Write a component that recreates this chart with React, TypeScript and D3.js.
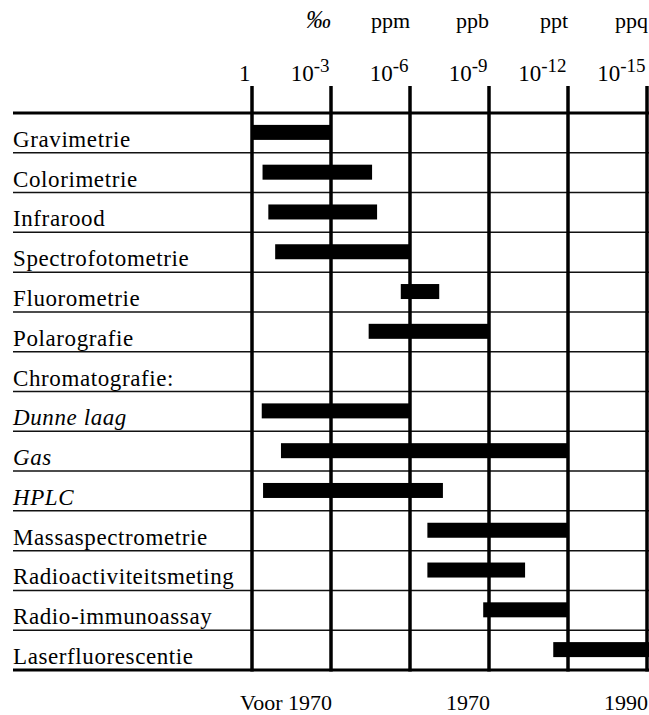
import React from "react";
import * as d3 from "d3";

const categories = [
  "Gravimetrie",
  "Colorimetrie",
  "Infrarood",
  "Spectrofotometrie",
  "Fluorometrie",
  "Polarografie",
  "Chromatografie:",
  "Dunne laag",
  "Gas",
  "HPLC",
  "Massaspectrometrie",
  "Radioactiviteitsmeting",
  "Radio-immunoassay",
  "Laserfluorescentie",
];
const italicRows = ["Dunne laag", "Gas", "HPLC"];
// detection range in negative decimal exponents (0 = 1, 15 = 10^-15)
const rangeStart: (number | null)[] = [0, 0.4, 0.62, 0.88, 5.65, 4.43, null, 0.37, 1.1, 0.42, 6.66, 6.66, 8.78, 11.44];
const rangeEnd: (number | null)[] = [3, 4.56, 4.75, 6.0, 7.11, 9.0, null, 6.0, 12, 7.25, 12, 10.37, 12, 15.1];

const tickExponents = [0, 3, 6, 9, 12, 15];
const unitLabels = ["", "‰", "ppm", "ppb", "ppt", "ppq"];
const periodLabels = ["Voor 1970", "1970", "1990"];
const periodPositions = [3, 9, 15];

const W = 649;
const H = 715;
const FONT = "'Liberation Serif', 'Times New Roman', serif";

export default function App() {
  const x = d3.scaleLinear().domain([0, 15]).range([252, 647]);
  const y = d3.scaleBand<string>().domain(categories).range([113, 670]).padding(0);
  const bw = y.bandwidth();
  const barH = 15;
  const leftX = 13;

  return (
    <svg
      width={W}
      height={H}
      style={{ position: "absolute", left: 0, top: 0, background: "#fff" }}
      fontFamily={FONT}
    >
      {/* row separators */}
      {categories.slice(1).map((c) => (
        <line key={"sep" + c} x1={leftX} x2={W} y1={y(c)!} y2={y(c)!} stroke="#111" strokeWidth={1.5} />
      ))}
      {/* bars */}
      {categories.map((c, i) =>
        rangeStart[i] === null ? null : (
          <rect
            key={"bar" + c}
            x={x(rangeStart[i] as number)}
            y={y(c)! + bw / 2 - barH / 2 - 0.5}
            width={x(rangeEnd[i] as number) - x(rangeStart[i] as number)}
            height={barH}
            fill="#000"
          />
        )
      )}
      {/* vertical lines */}
      {tickExponents.map((t) => (
        <line key={"v" + t} x1={x(t)} x2={x(t)} y1={86} y2={671.5} stroke="#000" strokeWidth={3.5} />
      ))}
      {/* top and bottom thick lines */}
      <line x1={leftX} x2={W} y1={113} y2={113} stroke="#000" strokeWidth={3} />
      <line x1={leftX} x2={W} y1={670} y2={670} stroke="#000" strokeWidth={3} />
      {/* category labels */}
      {categories.map((c) => (
        <text
          key={"lab" + c}
          x={leftX}
          y={y(c)! + bw - 6}
          fontSize={23}
          letterSpacing={0.6}
          fontStyle={italicRows.includes(c) ? "italic" : "normal"}
          fill="#000"
        >
          {c}
        </text>
      ))}
      {/* exponent tick labels */}
      {tickExponents.map((t) => (
        <text key={"tl" + t} x={x(t) - 1.5} y={81} fontSize={23} textAnchor="end" fill="#000">
          {t === 0 ? (
            "1"
          ) : (
            <>
              <tspan>10</tspan>
              <tspan dy={-9} fontSize={19}>{"-" + t}</tspan>
            </>
          )}
        </text>
      ))}
      {/* unit labels */}
      {tickExponents.map((t, i) =>
        unitLabels[i] ? (
          <text
            key={"u" + t}
            x={x(t) + (i === 5 ? 1 : 0)}
            y={28}
            fontSize={unitLabels[i] === "‰" ? 25 : 22}
            textAnchor="end"
            fontStyle={unitLabels[i] === "‰" ? "italic" : "normal"}
            fill="#000"
          >
            {unitLabels[i]}
          </text>
        ) : null
      )}
      {/* period labels */}
      {periodLabels.map((p, i) => (
        <text key={"p" + p} x={x(periodPositions[i]) + 1} y={710} fontSize={22} textAnchor="end" fill="#000">
          {p}
        </text>
      ))}
    </svg>
  );
}
